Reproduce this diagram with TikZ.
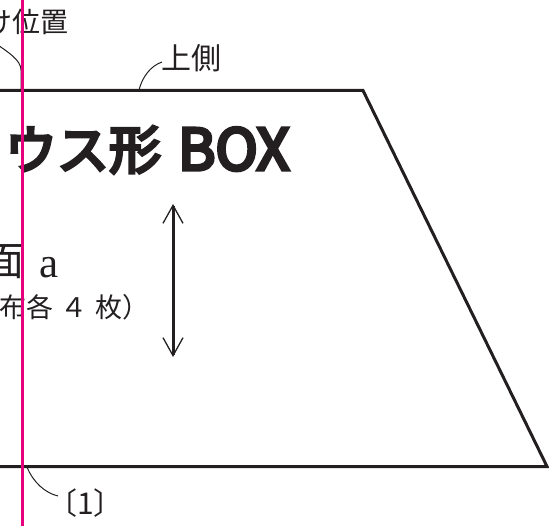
\documentclass[tikz,border=0pt]{standalone}
\usepackage{fontspec}
\newfontfamily\jpf{Noto Sans CJK JP}
\newfontfamily\jpfb[FakeBold=6]{Noto Sans CJK JP}
\newfontfamily\lserif{Liberation Serif}
\usetikzlibrary{arrows.meta}
\definecolor{ink}{HTML}{231F20}
\definecolor{mag}{HTML}{E6007E}
\tikzset{
  outline/.style={draw=ink,line width=3pt,line join=miter},
  leader/.style={draw=ink,line width=1pt},
  guide/.style={draw=mag,line width=2.4pt},
  txt/.style={inner sep=0pt,outer sep=0pt,anchor=base west,text=ink},
  dbl/.style={draw=ink,line width=3pt,{Straight Barb[length=18pt,width=20pt,line width=1.3pt]}-{Straight Barb[length=18pt,width=20pt,line width=1.3pt]}}
}
\begin{document}
\begin{tikzpicture}[x=1pt,y=-1pt]
\useasboundingbox (0,0) rectangle (549,526);
\clip (0,0) rectangle (549,526);
% trapezoid outline
\coordinate (tl) at (-10,90.5);
\coordinate (tr) at (363,90.5);
\coordinate (br) at (547,466.5);
\coordinate (bl) at (-10,466.5);
\draw[outline] (tl) -- (tr) -- (br) -- (bl);
% texts
\node[txt] (pos) at (-15,33) {\jpf\fontsize{28pt}{28pt}\selectfont け位置};
\node[txt] (upper) at (161,70) {\jpf\fontsize{30pt}{30pt}\selectfont 上側};
\node[txt] (title) at (5,169) {\jpfb\fontsize{52pt}{52pt}\selectfont ウス形};
\node[txt] (box) at (178,170) {\jpfb\fontsize{57pt}{57pt}\selectfont BOX};
\node[txt] (men) at (-15,276) {\jpf\fontsize{40pt}{40pt}\selectfont 面};
\node[txt] (a) at (39,278) {\lserif\fontsize{43pt}{43pt}\selectfont a};
\node[txt] (cloth) at (-1,318) {\jpf\fontsize{27pt}{27pt}\selectfont 布各\hspace{8pt}４\hspace{8pt}枚）};
\node[txt] (one) at (47,514) {\jpf\fontsize{30pt}{30pt}\selectfont 〔1〕};
% leaders
\coordinate (l1a) at (-8,41);
\coordinate (l1b) at (21,70);
\coordinate (l1c) at (21,90);
\draw[leader] (l1a) .. controls (8,52) and (21,60) .. (l1b) -- (l1c);
\coordinate (l2a) at (162,62);
\coordinate (l2b) at (139,90);
\draw[leader] (l2a) .. controls (150,66) and (142,78) .. (l2b);
\coordinate (l3a) at (27,467);
\coordinate (l3b) at (58,496);
\draw[leader] (l3a) .. controls (33,482) and (45,493) .. (l3b);
% double arrow
\coordinate (arT) at (173,204);
\coordinate (arB) at (173,357);
\draw[dbl] (arT) -- (arB);
% magenta guide
\coordinate (gT) at (22.3,-5);
\coordinate (gB) at (22.3,530);
\draw[guide] (gT) -- (gB);
\end{tikzpicture}
\end{document}
